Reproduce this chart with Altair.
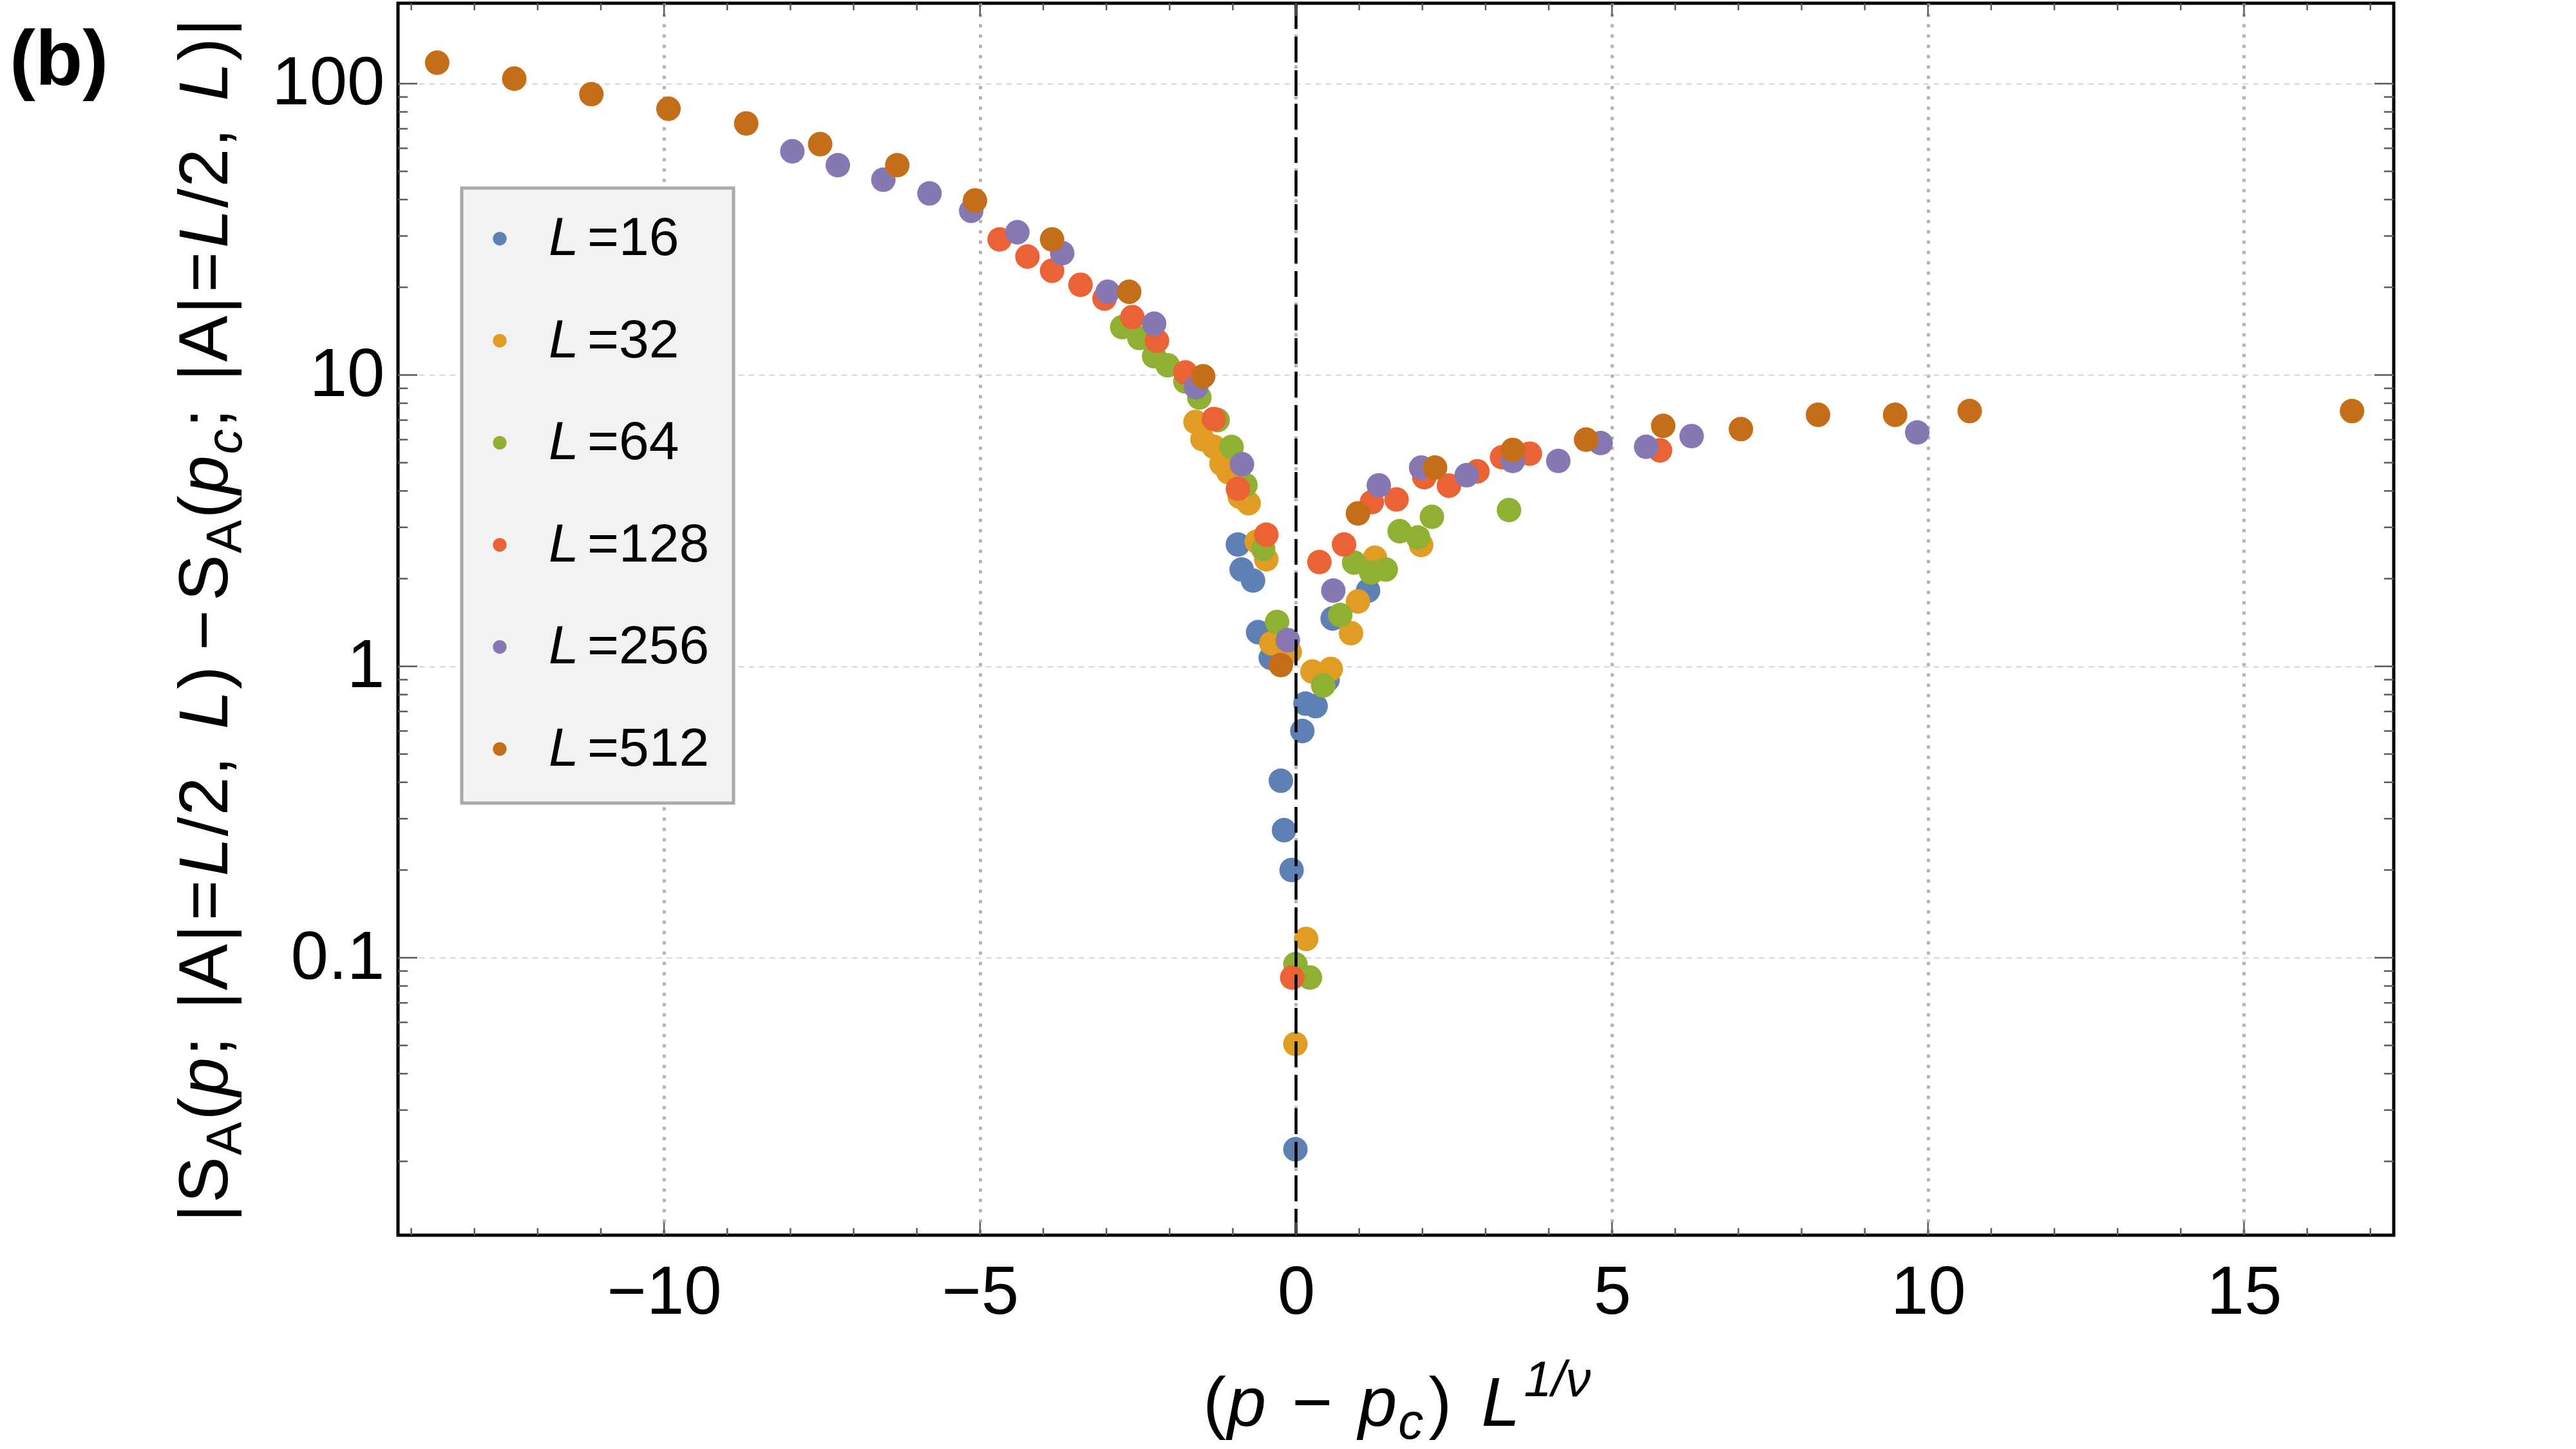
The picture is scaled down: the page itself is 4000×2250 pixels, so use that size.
import math
import altair as alt
import pandas as pd

# ---------------- data: scaled entropy difference for each system size ----------------
sizes = ["16", "32", "64", "128", "256", "512"]
colors = ["#5E81B5", "#E19C24", "#8FB032", "#EB6235", "#8778B3", "#C56E1A"]

x16 = [-0.92, -0.86, -0.68, -0.60, -0.40, -0.24, -0.19, -0.07, -0.01, 0.10, 0.15, 0.31, 0.50, 0.58, 1.14]
y16 = [2.62, 2.15, 1.97, 1.31, 1.07, 0.405, 0.274, 0.20, 0.022, 0.60, 0.745, 0.73, 0.90, 1.46, 1.82]

x32 = [-1.59, -1.48, -1.30, -1.18, -1.07, -0.89, -0.75, -0.62, -0.47, -0.39, -0.10, -0.01, 0.16, 0.26,
       0.55, 0.87, 0.98, 1.25, 1.98]
y32 = [6.9, 6.02, 5.67, 4.96, 4.64, 3.82, 3.63, 2.68, 2.33, 1.20, 1.12, 0.0506, 0.116, 0.96,
       0.98, 1.30, 1.67, 2.36, 2.61]

x64 = [-2.75, -2.48, -2.245, -2.03, -1.75, -1.53, -1.24, -1.02, -0.80, -0.52, -0.30, -0.01, 0.22,
       0.43, 0.70, 0.92, 1.19, 1.42, 1.64, 1.93, 2.15, 3.37]
y64 = [14.6, 13.4, 11.6, 10.8, 9.5, 8.37, 7.0, 5.66, 4.19, 2.53, 1.42, 0.095, 0.0855,
       0.86, 1.50, 2.27, 2.10, 2.15, 2.91, 2.77, 3.26, 3.44]

x128 = [-4.69, -4.25, -3.86, -3.41, -3.03, -2.59, -2.20, -1.75, -1.30, -0.92, -0.47, -0.06, 0.37,
        0.76, 1.20, 1.59, 2.03, 2.42, 2.87, 3.26, 3.70, 5.76]
y128 = [29.2, 25.5, 22.8, 20.4, 18.3, 15.8, 13.1, 10.2, 7.06, 4.07, 2.83, 0.0855, 2.28,
        2.62, 3.66, 3.74, 4.46, 4.17, 4.67, 5.22, 5.37, 5.51]

x256 = [-7.97, -7.25, -6.53, -5.80, -5.14, -4.41, -3.70, -2.98, -2.245, -1.58, -0.855, -0.13, 0.59,
        1.31, 1.98, 2.70, 3.43, 4.15, 4.82, 5.54, 6.26, 9.83]
y256 = [58.6, 52.5, 46.8, 42.0, 36.6, 30.9, 26.2, 19.3, 15.0, 9.08, 4.94, 1.23, 1.82,
        4.18, 4.81, 4.53, 5.07, 5.07, 5.84, 5.67, 6.17, 6.35]

x512 = [-13.59, -12.37, -11.15, -9.93, -8.70, -7.53, -6.31, -5.08, -3.86, -2.64, -1.47, -0.24, 0.98,
        2.20, 3.43, 4.59, 5.81, 7.04, 8.26, 9.48, 10.66, 16.71]
y512 = [118, 104, 92, 82, 73, 62, 52.5, 39.7, 29.2, 19.3, 9.9, 1.01, 3.35,
        4.81, 5.53, 6.0, 6.69, 6.52, 7.30, 7.30, 7.52, 7.52]

series = {"16": (x16, y16), "32": (x32, y32), "64": (x64, y64),
          "128": (x128, y128), "256": (x256, y256), "512": (x512, y512)}

# axis ticks and labels
x_major = [-10, -5, 0, 5, 10, 15]
x_minor = [v for v in range(-14, 18) if v % 5 != 0]
y_major = [0.1, 1, 10, 100]
y_minor = [round(m * 10.0 ** k, 4) for k in (-2, -1, 0, 1) for m in range(2, 10)]
x_domain = [-14.21, 17.37]
y_domain = [0.01116, 188.8]

# ---------------- layout ----------------
W, H = 3099, 1913          # plot area
OX, OY = 618, 5            # plot origin on the page
FONT = "Liberation Sans"

rows = []
for L in sizes:
    xs, ys = series[L]
    rows += [{"x": a, "y": b, "L": L} for a, b in zip(xs, ys)]
df = pd.DataFrame(rows)

xscale = alt.Scale(domain=x_domain, nice=False, zero=False)
yscale = alt.Scale(type="log", domain=y_domain, nice=False)
cscale = alt.Scale(domain=sizes, range=colors)

xaxis = alt.Axis(values=x_major, format="d", grid=True, gridColor="#b4b4b4",
                 gridDash=[5, 11], gridWidth=5, domain=False, ticks=False, tickSize=0,
                 labelFontSize=105, labelFont=FONT, labelColor="black", labelPadding=38)
yaxis = alt.Axis(values=y_major, format="~g", grid=True, gridColor="#d6d6d6",
                 gridDash=[9, 7], gridWidth=2, domain=False, ticks=False, tickSize=0,
                 labelFontSize=105, labelFont=FONT, labelColor="black", labelPadding=21)


def X(field):
    return alt.X(field, scale=xscale, axis=xaxis, title="")


def Y(field):
    return alt.Y(field, scale=yscale, axis=yaxis, title="")


# page pixels (relative to the plot origin) -> data coordinates, for annotations
LY0, LY1 = math.log10(y_domain[0]), math.log10(y_domain[1])


def to_x(px):
    return x_domain[0] + px / W * (x_domain[1] - x_domain[0])


def to_y(py):
    return 10 ** (LY1 - py / H * (LY1 - LY0))


points = alt.Chart(df).mark_circle(size=1450, opacity=1).encode(
    x=X("x:Q"), y=Y("y:Q"),
    color=alt.Color("L:N", scale=cscale, legend=None),
)

zero_line = alt.Chart(pd.DataFrame({"x": [0]})).mark_rule(
    color="black", strokeWidth=4.5, strokeDash=[40, 12]
).encode(x=X("x:Q"))


def tick_layer(values, channel, length, side):
    d = pd.DataFrame({"v": values})
    base = alt.Chart(d).mark_rule(color="#5a5a5a", strokeWidth=2.5)
    if channel == "x":
        y0 = H if side == "bottom" else 0
        y1 = H - length if side == "bottom" else length
        return base.encode(x=X("v:Q"), y=alt.value(y0), y2=alt.value(y1))
    x0 = 0 if side == "left" else W
    x1 = length if side == "left" else W - length
    return base.encode(y=Y("v:Q"), x=alt.value(x0), x2=alt.value(x1))


ticks = [
    tick_layer(x_major, "x", 20, "bottom"), tick_layer(x_minor, "x", 11, "bottom"),
    tick_layer(x_major, "x", 20, "top"), tick_layer(x_minor, "x", 11, "top"),
    tick_layer(y_major, "y", 30, "left"), tick_layer(y_minor, "y", 15, "left"),
    tick_layer(y_major, "y", 30, "right"), tick_layer(y_minor, "y", 15, "right"),
]


def text_layer(items, size, italic=False, bold=False, angle=0):
    d = pd.DataFrame(
        [{"t": t, "ax": to_x(px), "ay": to_y(py)} for t, px, py in items])
    kw = dict(align="left", baseline="alphabetic", font=FONT, fontSize=size, color="black")
    if italic:
        kw["fontStyle"] = "italic"
    if bold:
        kw["fontWeight"] = "bold"
    if angle:
        kw["angle"] = angle
    return alt.Chart(d).mark_text(**kw).encode(x=X("ax:Q"), y=Y("ay:Q"), text="t:N")


# ---------------- legend ----------------
legend_box = alt.Chart(pd.DataFrame({"k": [0]})).mark_rect(
    fill="#f2f2f2", stroke="#a9a9a9", strokeWidth=5
).encode(x=alt.value(717 - OX), x2=alt.value(1139 - OX),
         y=alt.value(292 - OY), y2=alt.value(1247 - OY))

ROW0, ROWSTEP = 370.6 - OY, 158.5
leg = pd.DataFrame({"L": sizes, "i": range(len(sizes))})
leg["ay"] = [to_y(ROW0 + i * ROWSTEP) for i in leg["i"]]
leg["ax"] = to_x(776 - OX)
legend_dots = alt.Chart(leg).mark_circle(size=452, opacity=1).encode(
    x=X("ax:Q"), y=Y("ay:Q"),
    color=alt.Color("L:N", scale=cscale, legend=None),
)
legend_L = text_layer([("L", 852 - OX, ROW0 + 25.5 + i * ROWSTEP) for i in range(len(sizes))],
                      84, italic=True)
legend_n = text_layer([("=" + L, 912 - OX, ROW0 + 25.5 + i * ROWSTEP) for i, L in enumerate(sizes)],
                      84)

# ---------------- axis titles (glyph runs with sub/superscripts) ----------------
ADV = {"|": 0.260, "S": 0.667, "A": 0.667, "(": 0.333, ")": 0.333, "p": 0.556, ";": 0.278,
       " ": 0.278, "=": 0.584, "L": 0.556, "/": 0.278, "2": 0.556, ",": 0.278, "−": 0.584,
       "c": 0.5, "1/ν": 1.334}
FS, SS = 108, 78           # main and script font sizes
LS = 2                     # extra letter spacing


def run(tokens, start, step_sign):
    """Place glyphs one after another; returns {style: [(glyph, offset)]}."""
    out = {"n": [], "i": [], "s": [], "si": [], "u": []}
    pos = start
    for t, style, extra in tokens:
        pos += step_sign * extra
        size = SS if style in ("s", "si", "u") else FS
        if t != " ":
            out[style].append((t, pos))
        pos += step_sign * (ADV[t] * size + LS)
    return out


# x title: (p − p_c) L^{1/ν}
x_tokens = [("(", "n", 0), ("p", "i", 0), (" ", "n", 6), ("−", "n", 0), (" ", "n", 6),
            ("p", "i", 0), ("c", "si", 0), (")", "n", 6), (" ", "n", 12), ("L", "i", 0),
            ("1/ν", "u", 4)]
xr = run(x_tokens, 1868 - OX, +1)
XB = 2214 - OY
x_title = [
    text_layer([(t, p, XB) for t, p in xr["n"]], FS),
    text_layer([(t, p, XB) for t, p in xr["i"]], FS, italic=True),
    text_layer([(t, p, XB + 20) for t, p in xr["si"]], SS, italic=True),
    text_layer([(t, p, XB - 46) for t, p in xr["u"]], SS, italic=True),
]

# y title: |S_A(p; |A|=L/2, L) − S_A(p_c; |A|=L/2, L)|, reading upward
y_tokens = [("|", "n", 0), ("S", "n", 0), ("A", "s", 0), ("(", "n", 0), ("p", "i", 0),
            (";", "n", 0), (" ", "n", 8), ("|", "n", 0), ("A", "n", 0), ("|", "n", 0),
            ("=", "n", 4), ("L", "i", 4), ("/", "n", 0), ("2", "n", 0), (",", "n", 0),
            (" ", "n", 8), ("L", "i", 0), (")", "n", 0), ("−", "n", 22), ("S", "n", 12),
            ("A", "s", 0), ("(", "n", 0), ("p", "i", 0), ("c", "si", 0), (";", "n", 0),
            (" ", "n", 8), ("|", "n", 0), ("A", "n", 0), ("|", "n", 0), ("=", "n", 4),
            ("L", "i", 4), ("/", "n", 0), ("2", "n", 0), (",", "n", 0), (" ", "n", 8),
            ("L", "i", 0), (")", "n", 0), ("|", "n", 0)]
yr = run(y_tokens, 1898 - OY, -1)
YX = 353 - OX
y_title = [
    text_layer([(t, YX, p) for t, p in yr["n"]], FS, angle=270),
    text_layer([(t, YX, p) for t, p in yr["i"]], FS, italic=True, angle=270),
    text_layer([(t, YX + 22, p) for t, p in yr["s"]], SS, angle=270),
    text_layer([(t, YX + 22, p) for t, p in yr["si"]], SS, italic=True, angle=270),
]

panel_label = text_layer([("(b)", 15 - OX, 132 - OY)], 120, bold=True)

chart = alt.layer(
    points, zero_line, *ticks, legend_box, legend_dots, legend_L, legend_n,
    *x_title, *y_title, panel_label,
).properties(
    width=W, height=H,
    autosize=alt.AutoSizeParams(type="none"),
    padding={"left": OX, "top": OY, "right": 4000 - OX - W, "bottom": 2250 - OY - H},
    background="white",
).configure_view(stroke="black", strokeWidth=5)

chart.save("out.html", embed_options={"renderer": "svg", "actions": False})
